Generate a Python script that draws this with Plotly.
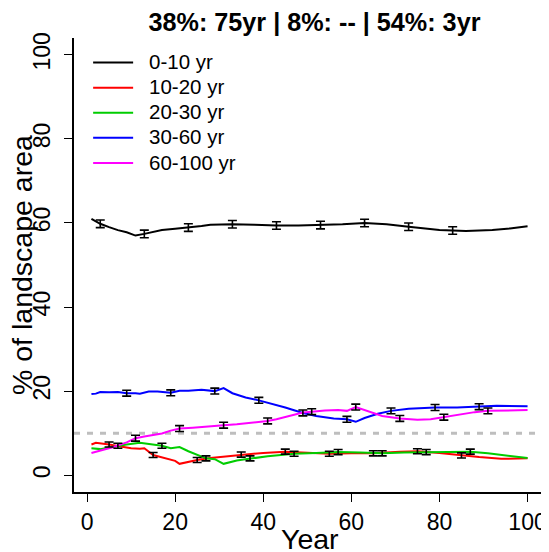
import plotly.graph_objects as go

# ---------------- data ----------------
series_names = ["0-10 yr", "10-20 yr", "20-30 yr", "30-60 yr", "60-100 yr"]
series_colors = ["#000000", "#FF0000", "#00CD00", "#0000FF", "#FF00FF"]

yrs_0_10 = [1, 3, 5, 7, 9, 11, 13, 15, 17, 20, 23, 26, 28, 33, 38, 43, 48, 53, 58, 63,
            68, 73, 77, 80, 83, 86, 89, 92, 96, 100]
val_0_10 = [61.0, 59.8, 59.0, 58.3, 57.8, 57.0, 57.4, 57.9, 58.3, 58.6, 58.9, 59.3, 59.6,
            59.7, 59.6, 59.4, 59.4, 59.5, 59.7, 60.0, 59.7, 59.1, 58.6, 58.3, 58.2, 58.1,
            58.2, 58.3, 58.7, 59.2]

yrs_10_20 = [1, 2, 5, 8, 10, 12, 13, 15, 18, 20, 21, 23, 25, 28, 32, 35, 40, 45, 50, 55,
             60, 65, 71, 75, 80, 85, 89, 94, 100]
val_10_20 = [7.3, 7.7, 7.3, 6.8, 6.4, 6.3, 6.4, 4.8, 3.9, 3.4, 2.7, 3.2, 3.6, 4.1, 4.5,
             4.9, 5.3, 5.6, 5.3, 5.1, 5.2, 5.2, 5.6, 5.7, 5.3, 4.7, 4.3, 3.9, 4.0]

yrs_20_30 = [1, 3, 5, 7, 9, 12, 14, 17, 19, 21, 23, 25, 27, 29, 31, 34, 37, 41, 44, 47,
             52, 57, 62, 67, 72, 77, 82, 87, 91, 95, 100]
val_20_30 = [6.4, 6.2, 6.6, 7.0, 7.3, 7.7, 7.4, 7.0, 6.4, 6.7, 5.7, 4.9, 4.0, 3.8, 2.7,
             3.5, 4.0, 4.5, 4.8, 5.1, 5.3, 5.5, 5.4, 5.2, 5.4, 5.5, 5.6, 5.6, 5.2, 4.7, 4.1]

yrs_30_60 = [1, 2, 3, 5, 7, 9, 11, 12, 14, 16, 19, 21, 23, 26, 29, 31, 33, 36, 39, 42,
             45, 49, 52, 56, 59, 61, 63, 66, 69, 73, 79, 84, 89, 93, 100]
val_30_60 = [19.3, 19.4, 19.8, 19.7, 19.8, 19.5, 19.5, 19.4, 19.9, 19.9, 19.6, 20.1, 20.1,
             20.3, 20.0, 20.7, 19.5, 18.5, 17.8, 17.0, 16.1, 14.8, 14.1, 13.5, 13.3, 12.7,
             13.6, 14.6, 15.3, 15.8, 16.1, 16.1, 16.3, 16.5, 16.4]

yrs_60_100 = [1, 3, 6, 9, 11, 13, 15, 17, 19, 21, 24, 27, 31, 34, 37, 41, 43, 45, 49, 51,
              54, 57, 59, 61, 64, 67, 71, 75, 78, 81, 84, 88, 91, 95, 100]
val_60_100 = [5.3, 5.9, 6.7, 7.8, 8.8, 9.2, 9.5, 9.9, 10.6, 11.1, 11.3, 11.6, 11.9, 12.1,
              12.4, 12.9, 13.3, 13.8, 14.9, 15.1, 15.4, 15.5, 15.3, 16.2, 15.2, 14.1, 13.5,
              13.2, 13.3, 13.8, 14.3, 15.0, 15.3, 15.4, 15.5]

# error-bar sample years (staggered per series) and half-widths
eb_yrs_0_10 = [3, 13, 23, 33, 43, 53, 63, 73, 83]
eb_yrs_10_20 = [5, 15, 25, 35, 45, 55, 65, 75, 85]
eb_yrs_20_30 = [7, 17, 27, 37, 47, 57, 67, 77, 87]
eb_yrs_30_60 = [9, 19, 29, 39, 49, 59, 69, 79, 89]
eb_yrs_60_100 = [11, 21, 31, 41, 51, 61, 71, 81, 91]
eb_err = [0.9, 0.6, 0.6, 0.7, 0.7]

reference_level = 10
title_text = "38%: 75yr | 8%: -- | 54%: 3yr"
x_title = "Year"
y_title = "% of landscape area"
x_ticks = [0, 20, 40, 60, 80, 100]
y_ticks = [0, 20, 40, 60, 80, 100]

# ---------------- figure ----------------
# page body has an 8px default margin; the figure is sized/margined to compensate
W, H = 541, 544
ML, MR, MT, MB = 66, 4, 30, 60
PW, PH = W - ML - MR, H - MT - MB

series_x = [yrs_0_10, yrs_10_20, yrs_20_30, yrs_30_60, yrs_60_100]
series_y = [val_0_10, val_10_20, val_20_30, val_30_60, val_60_100]
series_eb = [eb_yrs_0_10, eb_yrs_10_20, eb_yrs_20_30, eb_yrs_30_60, eb_yrs_60_100]

FONT = "Liberation Sans, Arial, Helvetica, sans-serif"
fig = go.Figure()

for name, col, xs, ys in zip(series_names, series_colors, series_x, series_y):
    fig.add_trace(go.Scatter(
        x=xs, y=ys, mode="lines",
        name="&nbsp;&nbsp;&#8202;<span style='font-size:20.5px'>" + name + "</span>",
        line=dict(color=col, width=2)))

for xs, ys, ebx, err in zip(series_x, series_y, series_eb, eb_err):
    lookup = dict(zip(xs, ys))
    eby = [lookup[v] for v in ebx]
    fig.add_trace(go.Scatter(
        x=ebx, y=eby, mode="markers", showlegend=False, hoverinfo="skip",
        marker=dict(size=1, color="rgba(0,0,0,0)"),
        error_y=dict(type="constant", value=err, color="#000000",
                     thickness=1.6, width=4.5)))

fig.add_shape(type="line", xref="paper", x0=0, x1=1, yref="y",
              y0=reference_level, y1=reference_level,
              line=dict(color="#BEBEBE", width=3, dash="6px,7px"), layer="below")

fig.add_annotation(text=x_title, xref="paper", yref="paper",
                   x=0.5, y=-(539 - 8 - (MT + PH)) / PH,
                   xanchor="center", yanchor="middle", showarrow=False,
                   font=dict(size=28.5, family=FONT, color="black"))
fig.add_annotation(text=y_title, xref="paper", yref="paper",
                   x=-(ML - (22 - 8)) / PW, y=0.5, textangle=-90,
                   xanchor="center", yanchor="middle", showarrow=False,
                   font=dict(size=28.5, family=FONT, color="black"))

fig.update_layout(
    width=W, height=H,
    margin=dict(l=ML, r=MR, t=MT, b=MB, autoexpand=False),
    paper_bgcolor="white", plot_bgcolor="white",
    font=dict(family=FONT, color="black"),
    title=dict(text=title_text, x=0.5 + 5 / PW, xref="paper", xanchor="center",
               y=1 - (22 - 8) / H, yref="container", yanchor="middle",
               font=dict(size=25.2, weight="bold", family=FONT)),
    legend=dict(x=0.03, y=1 - 7 / PH, xanchor="left", yanchor="top",
                bgcolor="rgba(0,0,0,0)", borderwidth=0,
                font=dict(size=17, family=FONT), itemwidth=40),
    showlegend=True,
)

fig.update_xaxes(range=[-2.96, 103.96], tickvals=x_ticks, ticks="outside", ticklen=8,
                 tickwidth=1, tickcolor="black", showline=True, linecolor="black",
                 linewidth=2, showgrid=False, zeroline=False,
                 tickfont=dict(size=23, family=FONT))
fig.update_yaxes(range=[-4, 104], tickvals=y_ticks, ticks="outside", ticklen=8,
                 tickwidth=1, tickcolor="black", showline=True, linecolor="black",
                 linewidth=2, showgrid=False, zeroline=False, tickangle=-90,
                 ticklabelstandoff=5,
                 tickfont=dict(size=23, family=FONT))

fig.write_html("out.html")
